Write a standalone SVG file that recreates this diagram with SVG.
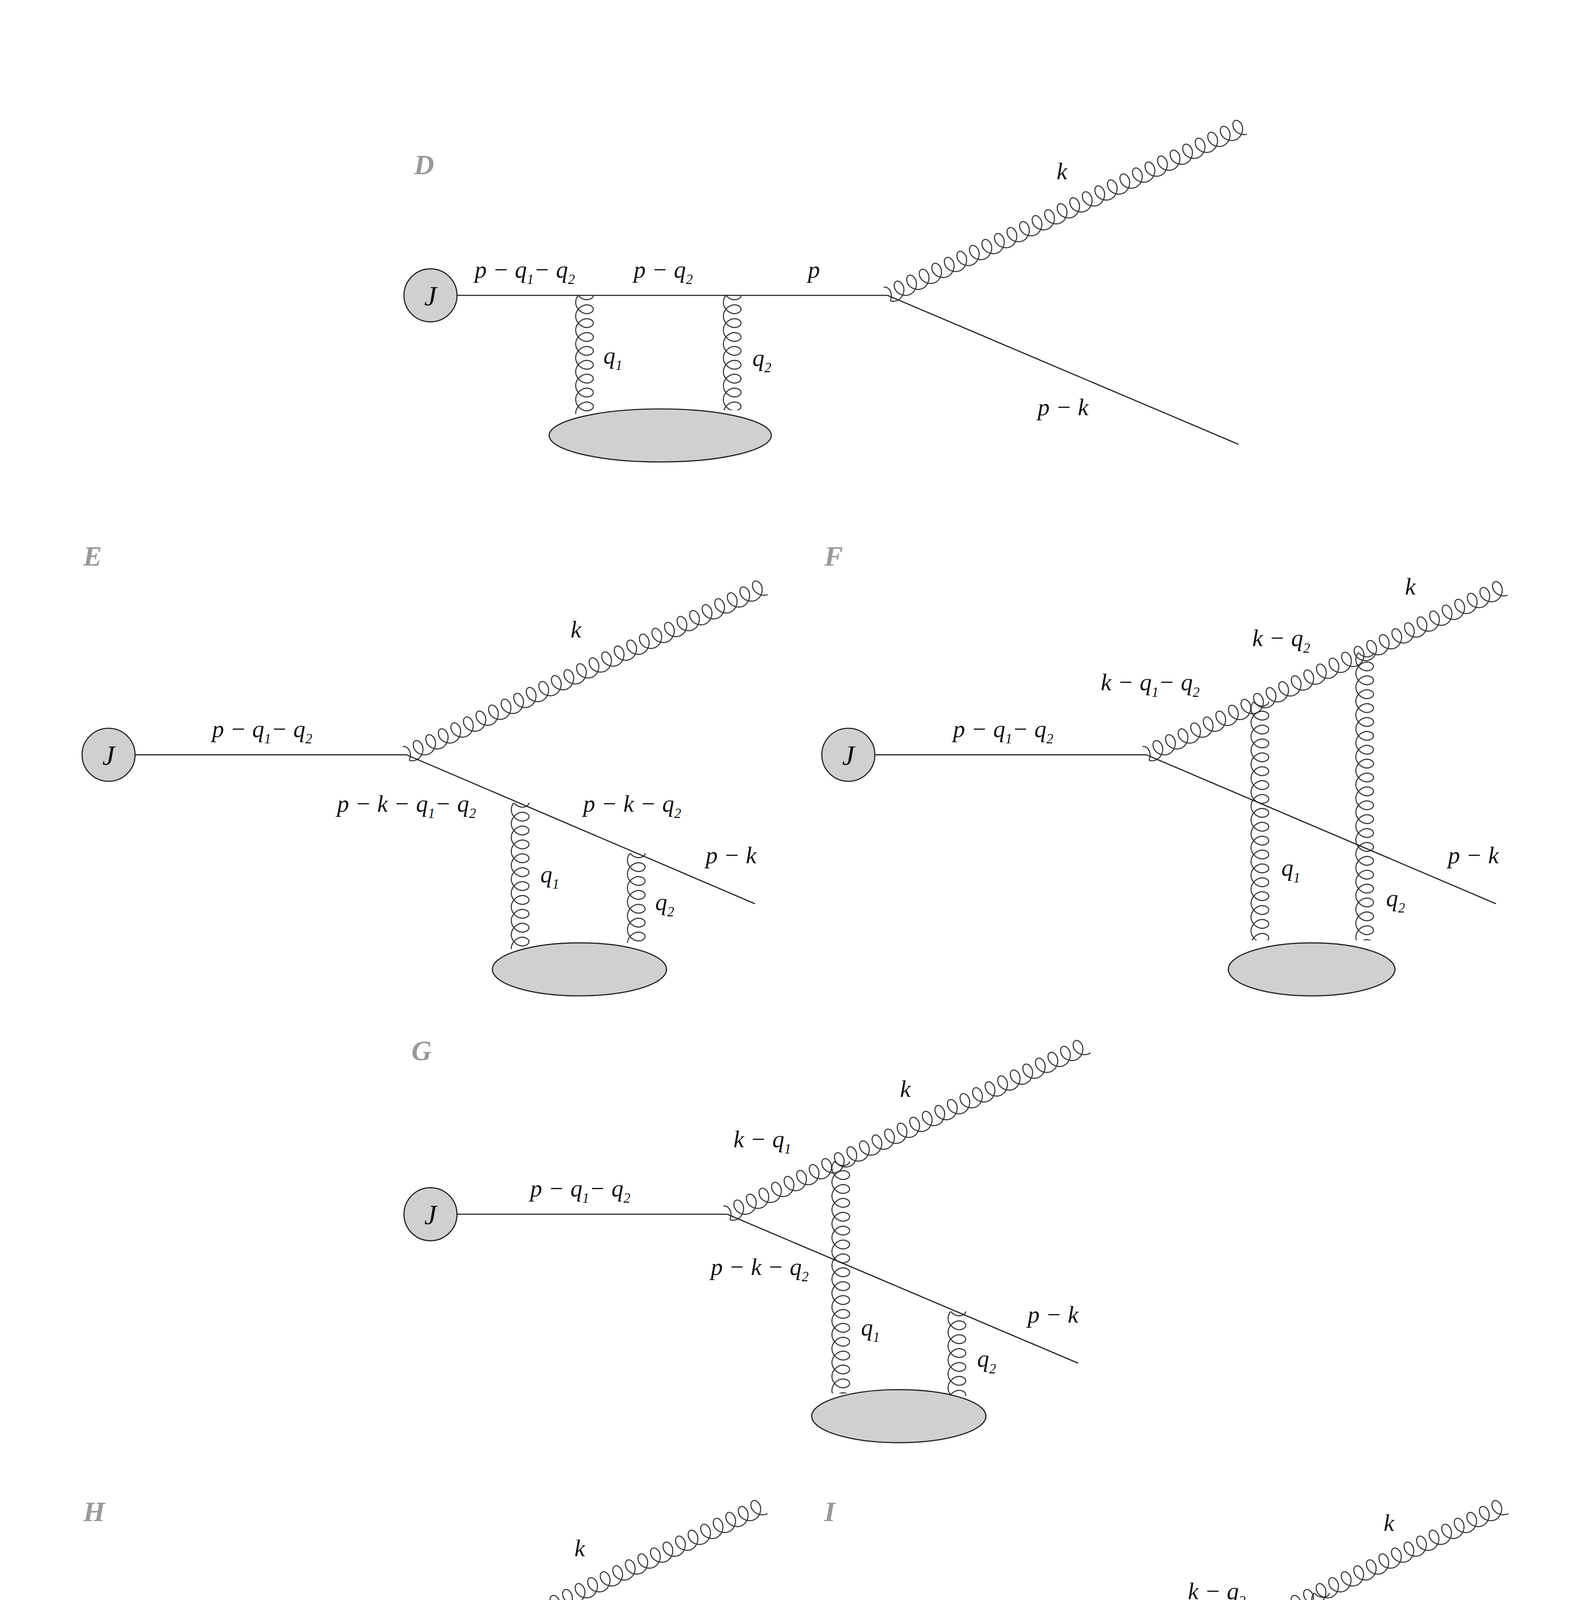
<svg xmlns="http://www.w3.org/2000/svg" width="4039" height="5049" viewBox="0 0 4039 5049">
<style>
.ln{stroke:#222;stroke-width:0.9;fill:none}
.bl{fill:#d0d0d0;stroke:#222;stroke-width:0.9}
.t{font-family:"Liberation Serif",serif;font-style:italic;font-size:19px;fill:#111}
.s{font-size:11px}
.tag{font-family:"Liberation Serif",serif;font-style:italic;font-weight:bold;font-size:22px;fill:#999}
.jt{font-family:"Liberation Serif",serif;font-style:italic;font-size:22px;fill:#111;text-anchor:middle}
</style>
<defs>
<pattern id="g" patternUnits="userSpaceOnUse" x="0" y="-9" width="11" height="18">
<path fill="none" stroke="#222" stroke-width="0.8" d="M-22,2 c-2.225,0 -4.167,3.335 -3.25,7 c0.917,3.665 4.692,7 8.75,7 c4.058,0 7.833,-3.335 8.75,-7 c0.917,-3.665 -1.025,-7 -3.25,-7 c-2.225,0 -4.167,3.335 -3.25,7 c0.917,3.665 4.692,7 8.75,7 c4.058,0 7.833,-3.335 8.75,-7 c0.917,-3.665 -1.025,-7 -3.25,-7 c-2.225,0 -4.167,3.335 -3.25,7 c0.917,3.665 4.692,7 8.75,7 c4.058,0 7.833,-3.335 8.75,-7 c0.917,-3.665 -1.025,-7 -3.25,-7 c-2.225,0 -4.167,3.335 -3.25,7 c0.917,3.665 4.692,7 8.75,7 c4.058,0 7.833,-3.335 8.75,-7 c0.917,-3.665 -1.025,-7 -3.25,-7"/>
</pattern>
</defs>
<rect width="4039" height="5049" fill="#fff"/>
<g transform="scale(3.2312)">
<g id="D">
<text class="tag" x="328" y="138">D</text>
<line class="ln" x1="362" y1="234" x2="703" y2="234"/>
<line class="ln" x1="703" y1="234" x2="981" y2="352"/>
<rect x="0" y="-9" width="312" height="18" fill="url(#g)" transform="translate(703 234) rotate(-25.4)"/>
<rect x="0" y="-9" width="94" height="18" fill="url(#g)" transform="translate(463 234) rotate(90)"/>
<rect x="0" y="-9" width="91" height="18" fill="url(#g)" transform="translate(580 234) rotate(90)"/>
<ellipse class="bl" cx="523" cy="345" rx="88" ry="21"/>
<circle class="bl" cx="341" cy="234" r="21"/><text class="jt" x="341" y="242">J</text>
<text class="t" x="376" y="220">p − q<tspan class="s" dy="5">1</tspan><tspan dy="-5">− q</tspan><tspan class="s" dy="5">2</tspan></text>
<text class="t" x="502" y="220">p − q<tspan class="s" dy="5">2</tspan></text>
<text class="t" x="640" y="220">p</text>
<text class="t" x="837" y="142">k</text>
<text class="t" x="478" y="288">q<tspan class="s" dy="5">1</tspan></text>
<text class="t" x="596" y="290">q<tspan class="s" dy="5">2</tspan></text>
<text class="t" x="822" y="329">p − k</text>
</g>
<g id="E">
<text class="tag" x="66" y="448">E</text>
<line class="ln" x1="107" y1="598" x2="322" y2="598"/>
<line class="ln" x1="322" y1="598" x2="598" y2="716"/>
<rect x="0" y="-9" width="313" height="18" fill="url(#g)" transform="translate(322 598) rotate(-25.2)"/>
<rect x="0" y="-9" width="116" height="18" fill="url(#g)" transform="translate(412 636) rotate(90)"/>
<rect x="0" y="-9" width="71" height="18" fill="url(#g)" transform="translate(504 676) rotate(90)"/>
<ellipse class="bl" cx="459" cy="768" rx="69" ry="21"/>
<circle class="bl" cx="86" cy="598" r="21"/><text class="jt" x="86" y="606">J</text>
<text class="t" x="168" y="584">p − q<tspan class="s" dy="5">1</tspan><tspan dy="-5">− q</tspan><tspan class="s" dy="5">2</tspan></text>
<text class="t" x="452" y="505">k</text>
<text class="t" x="267" y="643">p − k − q<tspan class="s" dy="5">1</tspan><tspan dy="-5">− q</tspan><tspan class="s" dy="5">2</tspan></text>
<text class="t" x="462" y="643">p − k − q<tspan class="s" dy="5">2</tspan></text>
<text class="t" x="559" y="684">p − k</text>
<text class="t" x="428" y="699">q<tspan class="s" dy="5">1</tspan></text>
<text class="t" x="519" y="721">q<tspan class="s" dy="5">2</tspan></text>
</g>
<g id="F">
<text class="tag" x="653" y="448">F</text>
<line class="ln" x1="693" y1="598" x2="908" y2="598"/>
<line class="ln" x1="908" y1="598" x2="1185" y2="716"/>
<rect x="0" y="-9" width="313" height="18" fill="url(#g)" transform="translate(908 598) rotate(-25.1)"/>
<rect x="0" y="-9" width="189" height="18" fill="url(#g)" transform="translate(998 556) rotate(90)"/>
<rect x="0" y="-9" width="228" height="18" fill="url(#g)" transform="translate(1081 517) rotate(90)"/>
<ellipse class="bl" cx="1039" cy="768" rx="66" ry="21"/>
<circle class="bl" cx="672" cy="598" r="21"/><text class="jt" x="672" y="606">J</text>
<text class="t" x="755" y="584">p − q<tspan class="s" dy="5">1</tspan><tspan dy="-5">− q</tspan><tspan class="s" dy="5">2</tspan></text>
<text class="t" x="1113" y="471">k</text>
<text class="t" x="992" y="512">k − q<tspan class="s" dy="5">2</tspan></text>
<text class="t" x="872" y="547">k − q<tspan class="s" dy="5">1</tspan><tspan dy="-5">− q</tspan><tspan class="s" dy="5">2</tspan></text>
<text class="t" x="1147" y="684">p − k</text>
<text class="t" x="1015" y="694">q<tspan class="s" dy="5">1</tspan></text>
<text class="t" x="1098" y="718">q<tspan class="s" dy="5">2</tspan></text>
</g>
<g id="G">
<text class="tag" x="326" y="840">G</text>
<line class="ln" x1="362" y1="962" x2="576" y2="962"/>
<line class="ln" x1="576" y1="962" x2="854" y2="1080"/>
<rect x="0" y="-9" width="315" height="18" fill="url(#g)" transform="translate(576 962) rotate(-25.2)"/>
<rect x="0" y="-9" width="184" height="18" fill="url(#g)" transform="translate(666 920) rotate(90)"/>
<rect x="0" y="-9" width="67" height="18" fill="url(#g)" transform="translate(758 1039) rotate(90)"/>
<ellipse class="bl" cx="712" cy="1122" rx="69" ry="21"/>
<circle class="bl" cx="341" cy="962" r="21"/><text class="jt" x="341" y="970">J</text>
<text class="t" x="420" y="948">p − q<tspan class="s" dy="5">1</tspan><tspan dy="-5">− q</tspan><tspan class="s" dy="5">2</tspan></text>
<text class="t" x="713" y="869">k</text>
<text class="t" x="581" y="909">k − q<tspan class="s" dy="5">1</tspan></text>
<text class="t" x="563" y="1010">p − k − q<tspan class="s" dy="5">2</tspan></text>
<text class="t" x="814" y="1048">p − k</text>
<text class="t" x="682" y="1058">q<tspan class="s" dy="5">1</tspan></text>
<text class="t" x="774" y="1083">q<tspan class="s" dy="5">2</tspan></text>
</g>
<g id="H">
<text class="tag" x="66" y="1205">H</text>
<line class="ln" x1="107" y1="1327" x2="321" y2="1327"/>
<line class="ln" x1="321" y1="1327" x2="598" y2="1445"/>
<rect x="0" y="-9" width="314" height="18" fill="url(#g)" transform="translate(321 1327) rotate(-25.3)"/>
<rect x="0" y="-9" width="148" height="18" fill="url(#g)" transform="translate(211 1327) rotate(90)"/>
<rect x="0" y="-9" width="90" height="18" fill="url(#g)" transform="translate(458 1385) rotate(90)"/>
<ellipse class="bl" cx="334" cy="1492" rx="145" ry="21"/>
<circle class="bl" cx="86" cy="1327" r="21"/><text class="jt" x="86" y="1335">J</text>
<text class="t" x="124" y="1312">p − q<tspan class="s" dy="5">1</tspan><tspan dy="-5">− q</tspan><tspan class="s" dy="5">2</tspan></text>
<text class="t" x="247" y="1312">p − q<tspan class="s" dy="5">2</tspan></text>
<text class="t" x="455" y="1233">k</text>
<text class="t" x="323" y="1384">p − k − q<tspan class="s" dy="5">2</tspan></text>
<text class="t" x="558" y="1412">p − k</text>
<text class="t" x="226" y="1410">q<tspan class="s" dy="5">1</tspan></text>
<text class="t" x="473" y="1445">q<tspan class="s" dy="5">2</tspan></text>
</g>
<g id="I">
<text class="tag" x="653" y="1205">I</text>
<line class="ln" x1="693" y1="1327" x2="908" y2="1327"/>
<line class="ln" x1="908" y1="1327" x2="1185" y2="1445"/>
<rect x="0" y="-9" width="314" height="18" fill="url(#g)" transform="translate(908 1327) rotate(-25.3)"/>
<rect x="0" y="-9" width="148" height="18" fill="url(#g)" transform="translate(798 1327) rotate(90)"/>
<rect x="0" y="-9" width="213" height="18" fill="url(#g)" transform="translate(1046 1262) rotate(90)"/>
<ellipse class="bl" cx="921" cy="1492" rx="145" ry="21"/>
<circle class="bl" cx="672" cy="1327" r="21"/><text class="jt" x="672" y="1335">J</text>
<text class="t" x="711" y="1312">p − q<tspan class="s" dy="5">1</tspan><tspan dy="-5">− q</tspan><tspan class="s" dy="5">2</tspan></text>
<text class="t" x="835" y="1312">p − q<tspan class="s" dy="5">2</tspan></text>
<text class="t" x="1096" y="1213">k</text>
<text class="t" x="941" y="1267">k − q<tspan class="s" dy="5">2</tspan></text>
<text class="t" x="1147" y="1412">p − k</text>
<text class="t" x="813" y="1410">q<tspan class="s" dy="5">1</tspan></text>
<text class="t" x="1062" y="1445">q<tspan class="s" dy="5">2</tspan></text>
</g>
</g>
</svg>
